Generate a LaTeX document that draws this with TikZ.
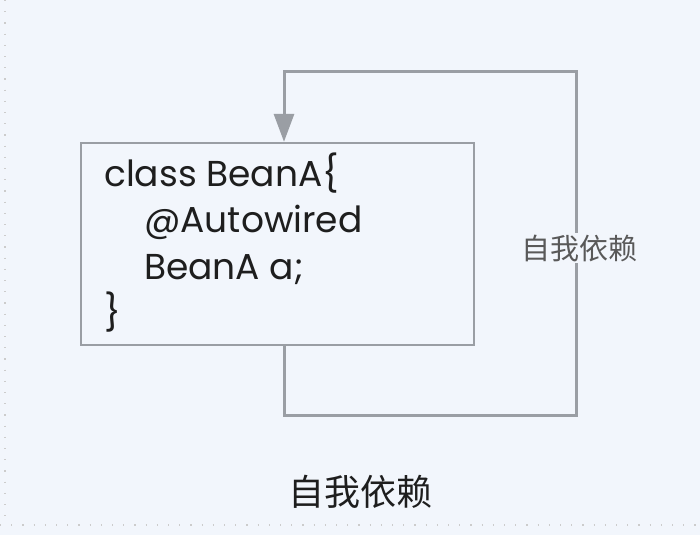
\documentclass[tikz,border=0pt]{standalone}
\usepackage{fontspec}
\setmainfont{Poppins}
\newfontfamily\cjk{Noto Sans CJK SC}
\usetikzlibrary{arrows.meta}
\definecolor{bg}{HTML}{F2F6FC}
\definecolor{linegray}{HTML}{9A9EA4}
\definecolor{textdark}{HTML}{1E1E1E}
\begin{document}
\begin{tikzpicture}[x=1pt,y=-1pt,
  conn/.style={draw=linegray,line width=3pt},
  codebox/.style={draw=linegray,line width=2.4pt,minimum width=393pt,minimum height=202pt,inner sep=0pt},
  codeline/.style={anchor=base west,text=textdark,font=\fontsize{36}{36}\selectfont,inner sep=0pt},
  lbl/.style={fill=bg,text=black!65,font=\cjk\fontsize{29}{29}\selectfont,inner sep=2pt},
  caption/.style={text=textdark,font=\cjk\fontsize{36}{36}\selectfont},
  dotb/.style={draw=black!20,line width=1.2pt,dash pattern=on 1.2pt off 10pt}]
\fill[bg] (0,0) rectangle (700,535);
\useasboundingbox (0,0) rectangle (700,535);
\draw[dotb] (5,0) -- (5,525);
\draw[dotb] (0,525) -- (700,525);
\node[codebox] (box) at (277.5,244) {};
\node[codeline] (l1) at (104,186) {class BeanA\{};
\node[codeline] (l2) at (144,232) {@Autowired};
\node[codeline] (l3) at (144,279) {BeanA a;};
\node[codeline] (l4) at (104,325) {\}};
\coordinate (b1) at (284,415);
\coordinate (b2) at (576,415);
\coordinate (b3) at (576,71);
\coordinate (b4) at (284,71);
\draw[conn,-{Triangle[length=28pt,width=20pt]}] (box.south -| b1) -- (b1) -- (b2) -- (b3) -- (b4) -- (box.north -| b4);
\node[lbl] (lab) at (579,248) {自我依赖};
\node[caption] (cap) at (360,492) {自我依赖};
\end{tikzpicture}
\end{document}
